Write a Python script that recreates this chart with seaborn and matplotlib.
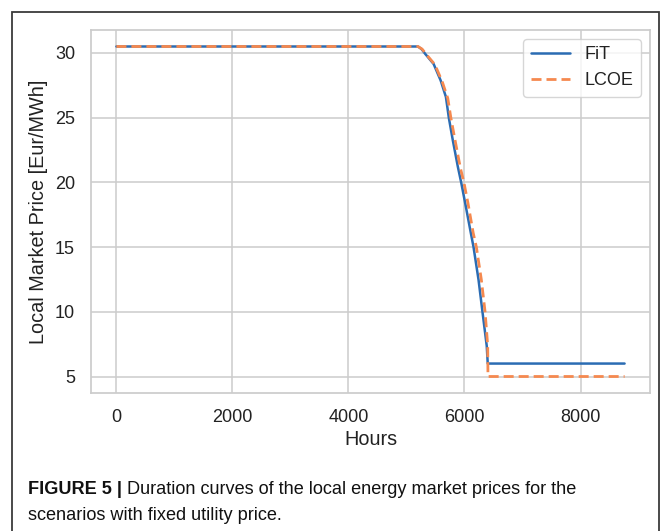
import matplotlib
matplotlib.use("Agg")
import matplotlib.pyplot as plt
from matplotlib.patches import Rectangle
import seaborn as sns
import pandas as pd

# ---- data ----
fit_hours = [0, 5198, 5260, 5325, 5468, 5590, 5680, 5730, 5799, 5886, 5943, 6012, 6109,
             6156, 6242, 6310, 6384, 6401, 8760]
fit_price = [30.5, 30.5, 30.3, 29.92, 29.15, 27.87, 26.6, 25.0, 23.25, 21.2, 20.0, 18.4, 16.1,
             15.0, 12.48, 10.0, 7.35, 6.0, 6.0]
lcoe_hours = [0, 5198, 5270, 5340, 5490, 5615, 5712, 5765, 5840, 5930, 5990, 6060, 6150,
              6205, 6290, 6355, 6400, 6405, 8760]
lcoe_price = [30.5, 30.5, 30.3, 29.9, 29.1, 27.8, 26.5, 25.0, 23.2, 21.1, 20.0, 18.4, 16.1,
              15.0, 12.5, 10.0, 7.4, 5.0, 5.0]
series_names = ["FiT", "LCOE"]
x_label = "Hours"
y_label = "Local Market Price [Eur/MWh]"
caption_bold = "FIGURE 5 |"
caption_line1 = " Duration curves of the local energy market prices for the"
caption_line2 = "scenarios with fixed utility price."

df = pd.concat([
    pd.DataFrame({"Hours": fit_hours, "Price": fit_price, "Scenario": series_names[0]}),
    pd.DataFrame({"Hours": lcoe_hours, "Price": lcoe_price, "Scenario": series_names[1]}),
], ignore_index=True)

sns.set_theme(style="whitegrid")
plt.rcParams["font.family"] = ["Liberation Sans", "DejaVu Sans"]
plt.rcParams["axes.edgecolor"] = "#cccccc"
plt.rcParams["grid.color"] = "#cccccc"

W, H = 664, 531
fig = plt.figure(figsize=(W / 100, H / 100), dpi=100)
ax = fig.add_axes([91 / W, 1 - 393 / H, (650 - 91) / W, (393 - 30) / H])

palette = {"FiT": "#2b6cb3", "LCOE": "#f5894f"}
dashes = {"FiT": "", "LCOE": (3.6, 1.8)}
sns.lineplot(data=df, x="Hours", y="Price", hue="Scenario", style="Scenario",
             palette=palette, dashes=dashes, estimator=None, sort=False,
             linewidth=2.0, ax=ax)
ax.get_lines()[0].set_linewidth(1.8)

ax.set_xticks([0, 2000, 4000, 6000, 8000])
ax.set_yticks([5, 10, 15, 20, 25, 30])
ax.tick_params(axis="both", labelsize=13, pad=11.5, length=0, labelcolor="#222222")
ax.set_xlabel(x_label, fontsize=14.3, labelpad=3, color="#222222")
ax.set_ylabel(y_label, fontsize=14.3, labelpad=5, color="#222222")
for s in ax.spines.values():
    s.set_color("#cccccc")
    s.set_linewidth(1.25)
ax.grid(True, color="#cccccc", linewidth=1.1)

leg = ax.legend(title=None, fontsize=13, loc="upper right", frameon=True,
                handlelength=2.2, borderaxespad=0.5)
leg.get_frame().set_edgecolor("#cccccc")
leg.get_frame().set_linewidth(1.0)
leg.get_lines()[0].set_linewidth(1.8)
for t in leg.get_texts():
    t.set_color("#222222")

# figure border
fig.patches.append(Rectangle((12.3 / W, -0.02), (659 - 12.3) / W, (H - 11.7) / H + 0.02,
                             transform=fig.transFigure, fill=False,
                             edgecolor="#3a3a3a", linewidth=1.3))

# caption
cap_fs = 13.1
y1 = 1 - 490 / H
y2 = 1 - 516 / H
x0 = 28.3 / W
t1 = fig.text(x0, y1, caption_bold, fontsize=cap_fs, fontweight="bold",
              va="center", ha="left", color="#111111")
fig.canvas.draw()
r = fig.canvas.get_renderer()
bb = t1.get_window_extent(r)
t2 = fig.text(bb.x1 / W, y1, caption_line1, fontsize=cap_fs, va="center", ha="left",
              color="#111111")
fig.text(x0, y2, caption_line2, fontsize=cap_fs, va="center", ha="left", color="#111111")

fig.savefig("out.png", dpi=100)
